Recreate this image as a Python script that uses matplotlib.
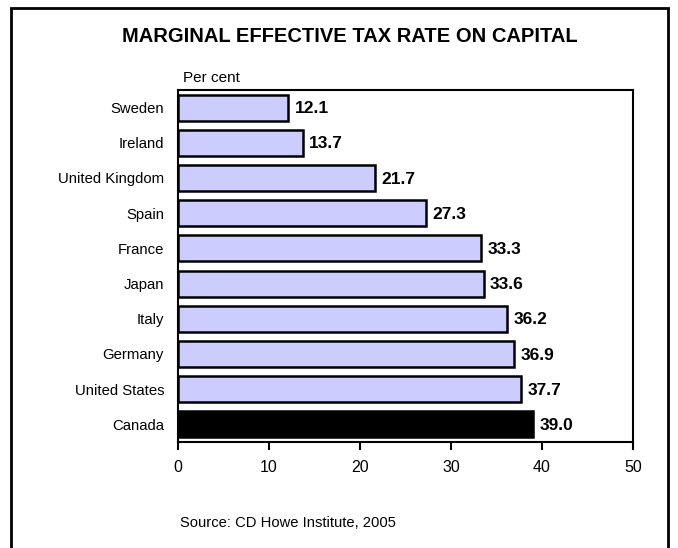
import matplotlib
matplotlib.use("Agg")
import matplotlib.pyplot as plt
from matplotlib.patches import Rectangle

plt.rcParams['font.family'] = ['Liberation Sans', 'DejaVu Sans']

countries = ["Sweden", "Ireland", "United Kingdom", "Spain", "France",
             "Japan", "Italy", "Germany", "United States", "Canada"]
rates = [12.1, 13.7, 21.7, 27.3, 33.3, 33.6, 36.2, 36.9, 37.7, 39.0]
colors = ["#CCCCFF"] * 9 + ["#000000"]

W, H = 678, 548
fig = plt.figure(figsize=(W / 100, H / 100), dpi=100)
# plot area in pixels: left 178, right 633, top 90, bottom 442
ax = fig.add_axes([178 / W, 1 - 442 / H, (633 - 178) / W, (442 - 90) / H])

ypos = list(range(len(countries)))
ax.barh(ypos, rates, height=0.74, color=colors, edgecolor="black", linewidth=1.8)
for y, v in zip(ypos, rates):
    ax.text(v + 0.7, y + 0.03, f"{v:.1f}", va="center", ha="left",
            fontsize=12.5, fontweight="bold")

ax.set_yticks(ypos)
ax.set_yticklabels(countries, fontsize=10.7)
ax.set_ylim(len(countries) - 0.5, -0.5)
ax.set_xlim(0, 50)
ax.set_xticks(range(0, 51, 10))
ax.tick_params(axis="x", labelsize=11.5, direction="out", length=6, width=1.5, pad=7)
ax.tick_params(axis="y", length=0, pad=10)
for s in ax.spines.values():
    s.set_linewidth(1.5)

fig.text(350 / W, 1 - 37 / H, "MARGINAL EFFECTIVE TAX RATE ON CAPITAL",
         ha="center", va="center", fontsize=14.5, fontweight="bold")
fig.text(183 / W, 1 - 78 / H, "Per cent", ha="left", va="center", fontsize=11)
fig.text(288 / W, 1 - 523 / H, "Source: CD Howe Institute, 2005",
         ha="center", va="center", fontsize=10.6)

# outer frame (bottom edge off the picture)
fig.patches.append(Rectangle((11 / W, -0.05), (668 - 11) / W, 1.05 - 8 / H,
                             transform=fig.transFigure, fill=False,
                             edgecolor="black", linewidth=2))

fig.savefig("out.png", dpi=100)
